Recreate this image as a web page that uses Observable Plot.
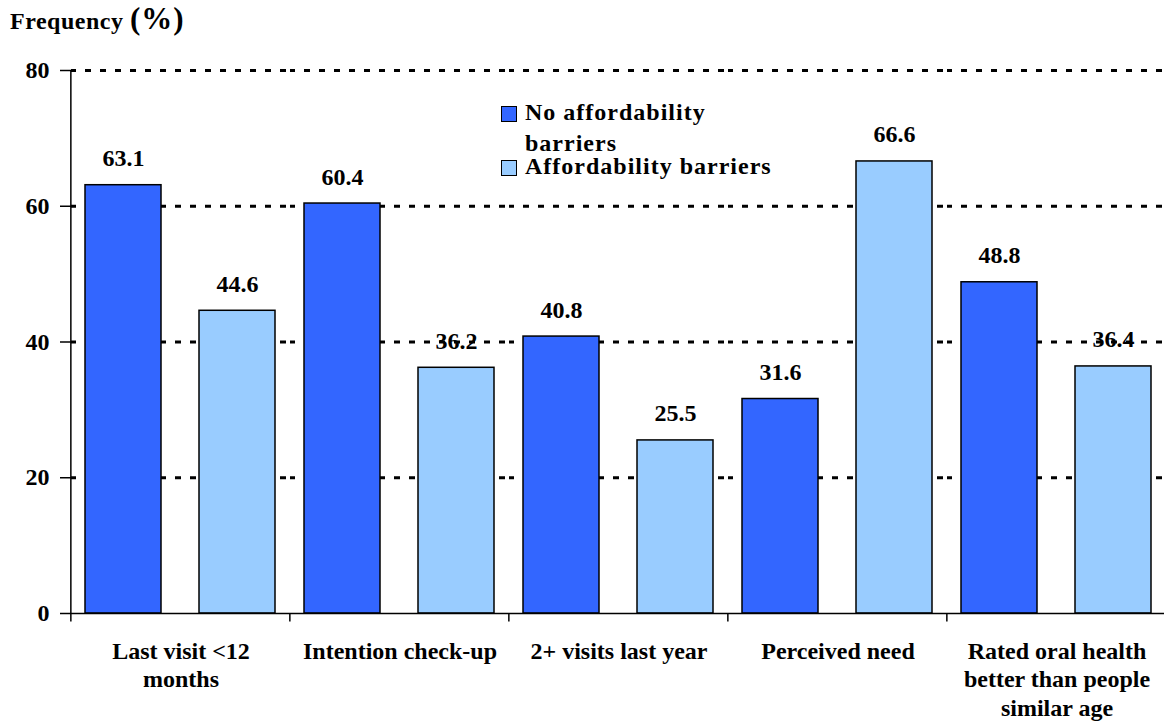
<!DOCTYPE html>
<html>
<head>
<meta charset="utf-8">
<script src="https://cdn.jsdelivr.net/npm/d3@7"></script>
<script src="https://cdn.jsdelivr.net/npm/@observablehq/plot@0.6"></script>
<style>
  body { margin: 0; background: #fff; }
  #chart {
    position: relative; width: 1164px; height: 727px; overflow: hidden;
    font-family: "Liberation Serif", "Times New Roman", serif; font-weight: bold; color: #000;
  }
  #chart svg { position: absolute; left: 0; top: 0; }
  .title { position: absolute; left: 10px; top: 7px; font-size: 24px; line-height: 24px; letter-spacing: 0.5px; white-space: nowrap; }
  .title .unit { font-size: 31px; letter-spacing: 1px; }
  .legend-item { position: absolute; left: 501px; }
  .legend-item .swatch {
    position: absolute; left: 0; width: 16px; height: 16px; box-sizing: border-box; border: 1.5px solid #000;
  }
  .legend-item .label {
    position: absolute; left: 24px; top: 0; font-size: 24px; line-height: 31px; letter-spacing: 1px; white-space: pre;
  }
</style>
</head>
<body>
<div id="chart"></div>
<script>
// Dental care use by affordability of care (percent)
const categories = [
  "Last visit <12 months",
  "Intention check-up",
  "2+ visits last year",
  "Perceived need",
  "Rated oral health better than people similar age"
];
const categoryLabels = [
  "Last visit <12\nmonths",
  "Intention check-up",
  "2+ visits last year",
  "Perceived need",
  "Rated oral health\nbetter than people\nsimilar age"
];
const series = ["No affordability barriers", "Affordability barriers"];
const legendLabels = ["No affordability\nbarriers", "Affordability barriers"];
const noBarriers = [63.1, 60.4, 40.8, 31.6, 48.8];
const withBarriers = [44.6, 36.2, 25.5, 66.6, 36.4];
const seriesColors = ["#3366FF", "#99CCFF"];
const yTicks = [0, 20, 40, 60, 80];
const gridValues = [20, 40, 60, 80];
const titleText = "Frequency";
const titleUnit = "(%)";

const rows = categories.flatMap((category, i) => [
  {category, series: series[0], value: noBarriers[i]},
  {category, series: series[1], value: withBarriers[i]}
]);

const width = 1164, height = 727;
const marginLeft = 69, marginRight = -3, marginTop = 70, marginBottom = 114;
const paddingInner = 0.333, paddingOuter = 0.127;

// distance from the centre of a group's first bar back to the group's left edge
const facetWidth = (width - marginLeft - marginRight) / categories.length;
const step = facetWidth / (series.length - paddingInner + 2 * paddingOuter);
const toGroupEdge = step * paddingOuter + step * (1 - paddingInner) / 2;
const firstSeries = () => series[0];

const fontFamily = '"Liberation Serif", "Times New Roman", serif';

const chart = Plot.plot({
  width, height, marginLeft, marginRight, marginTop, marginBottom,
  style: {fontFamily, fontWeight: "bold", fontSize: "24px", color: "#000", background: "transparent", overflow: "visible"},
  fx: {domain: categories, padding: 0, label: null, axis: null},
  x: {domain: series, paddingInner, paddingOuter, axis: null},
  y: {domain: [0, 80], axis: null},
  color: {domain: series, range: seriesColors},
  marks: [
    // dashed gridlines
    Plot.ruleY(gridValues, {stroke: "#000", strokeWidth: 3, strokeDasharray: "6,9", strokeDashoffset: 1}),
    // bars
    Plot.barY(rows, {fx: "category", x: "series", y: "value", fill: "series", stroke: "#000", strokeWidth: 1.5}),
    // category axis line
    Plot.ruleY([0], {stroke: "#000", strokeWidth: 1.5}),
    // ticks between category groups
    Plot.ruleX(categories, {fx: d => d, x: firstSeries, y1: 0, y2: -1.25, dx: -toGroupEdge, stroke: "#000", strokeWidth: 1.5}),
    // value axis line
    Plot.ruleX(categories.slice(0, 1), {fx: d => d, x: firstSeries, y1: 0, y2: 80, dx: -toGroupEdge, stroke: "#000", strokeWidth: 1.5}),
    Plot.axisY({ticks: yTicks, tickSize: 11, tickPadding: 11, tickFormat: d => String(d), fontSize: 24, strokeWidth: 1.5, label: null}),
    Plot.axisFx({
      anchor: "bottom", tickSize: 0, tickPadding: 25, fontSize: 24, lineHeight: 1.19, label: null,
      tickFormat: d => categoryLabels[categories.indexOf(d)]
    }),
    // value labels
    Plot.text(rows, {
      fx: "category", x: "series", y: "value", text: d => d.value.toFixed(1),
      dy: -19, lineAnchor: "bottom", fontSize: 24
    })
  ]
});

const root = document.getElementById("chart");
root.appendChild(chart);

const title = document.createElement("div");
title.className = "title";
title.innerHTML = `${titleText} <span class="unit">${titleUnit}</span>`;
root.appendChild(title);

const legendTops = [97, 151];
const swatchOffsets = [9, 9];
series.forEach((s, i) => {
  const item = document.createElement("div");
  item.className = "legend-item";
  item.style.top = legendTops[i] + "px";
  const sw = document.createElement("div");
  sw.className = "swatch";
  sw.style.top = swatchOffsets[i] + "px";
  sw.style.background = seriesColors[i];
  const label = document.createElement("div");
  label.className = "label";
  label.textContent = legendLabels[i];
  item.appendChild(sw);
  item.appendChild(label);
  root.appendChild(item);
});
</script>
</body>
</html>
